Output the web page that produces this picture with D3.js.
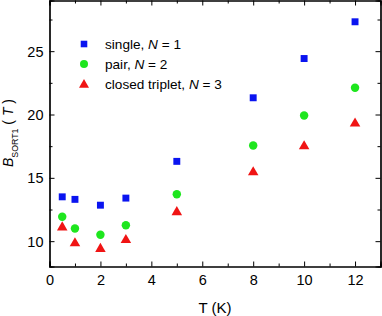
<!DOCTYPE html>
<html><head><meta charset="utf-8">
<script src="https://cdn.jsdelivr.net/npm/d3@7/dist/d3.min.js"></script>
<style>body{margin:0;background:#fff}svg{display:block}text{font-family:"Liberation Sans",Arial,sans-serif}</style>
</head><body><svg id="c" width="382" height="316"></svg>
<script>
const temps = [0.5, 1, 2, 3, 5, 8, 10, 12];
const single = [13.5, 13.3, 12.84, 13.4, 16.3, 21.32, 24.42, 27.32];
const pair = [11.93, 11.0, 10.5, 11.26, 13.71, 17.56, 19.92, 22.11];
const triplet = [11.15, 9.9, 9.45, 10.15, 12.35, 15.5, 17.55, 19.35];
const xMajor = [0, 2, 4, 6, 8, 10, 12];
const xMinor = [1, 3, 5, 7, 9, 11];
const yMajor = [10, 15, 20, 25];
const yMinor = [12.5, 17.5, 22.5, 27.5];
const legendLabels = [["single, ", "N", " = 1"], ["pair, ", "N", " = 2"], ["closed triplet, ", "N", " = 3"]];
const colors = ["#0a14f0", "#1ee61e", "#f01414"];

const svg = d3.select("#c");
const L = 49.5, R = 380.5, T = 0.5, B = 266.5;
const x = d3.scaleLinear().domain([0, 13]).range([L, R]);
const y = d3.scaleLinear().domain([8, 29]).range([B, T]);

const gx = svg.append("g").attr("transform", `translate(0,${B})`)
  .call(d3.axisBottom(x).tickValues(xMajor).tickSize(-5).tickPadding(8).tickFormat(d3.format("d")));
const gxm = svg.append("g").attr("transform", `translate(0,${B})`)
  .call(d3.axisBottom(x).tickValues(xMinor).tickSize(-3).tickFormat(""));
const gxt = svg.append("g").attr("transform", `translate(0,${T})`)
  .call(d3.axisTop(x).tickValues(xMajor).tickSize(-5).tickFormat(""));
const gxtm = svg.append("g").attr("transform", `translate(0,${T})`)
  .call(d3.axisTop(x).tickValues(xMinor).tickSize(-3).tickFormat(""));
const gy = svg.append("g").attr("transform", `translate(${L},0)`)
  .call(d3.axisLeft(y).tickValues(yMajor).tickSize(-5).tickPadding(6).tickFormat(d3.format("d")));
const gym = svg.append("g").attr("transform", `translate(${L},0)`)
  .call(d3.axisLeft(y).tickValues(yMinor).tickSize(-3).tickFormat(""));
const gyr = svg.append("g").attr("transform", `translate(${R},0)`)
  .call(d3.axisRight(y).tickValues(yMajor).tickSize(-5).tickFormat(""));
const gyrm = svg.append("g").attr("transform", `translate(${R},0)`)
  .call(d3.axisRight(y).tickValues(yMinor).tickSize(-3).tickFormat(""));
[gx,gxm,gxt,gxtm,gy,gym,gyr,gyrm].forEach(g=>{
  g.selectAll("path").attr("stroke","#000").attr("stroke-width",1.2);
  g.selectAll("line").attr("stroke","#000").attr("stroke-width",1);
  g.selectAll("text").attr("font-size",14.5).attr("fill","#000")
    .style("font-family",'"Liberation Sans",Arial,sans-serif');
});
gy.selectAll("text").attr("dy","0.35em");

const sym = [d3.symbolSquare, d3.symbolCircle, d3.symbolTriangle];
const sizes = [48, 56, 48];
const series = [single, pair, triplet];
series.forEach((vals, i) => {
  svg.append("g").selectAll("path").data(temps.map((t, j) => [t, vals[j]])).join("path")
    .attr("transform", d => `translate(${x(d[0])},${y(d[1]) + (i===2?0.8:0)})`)
    .attr("d", d3.symbol().type(sym[i]).size(sizes[i]))
    .attr("fill", colors[i]);
});

legendLabels.forEach((lab, i) => {
  const cy = 44 + i * 20;
  svg.append("path").attr("transform", `translate(84,${cy + (i===2?0.8:0)})`)
    .attr("d", d3.symbol().type(sym[i]).size(sizes[i]*0.9)).attr("fill", colors[i]);
  const t = svg.append("text").attr("x", 105).attr("y", cy + 4.8).attr("font-size", 13.6).attr("fill","#000");
  t.append("tspan").text(lab[0]);
  t.append("tspan").attr("font-style", "italic").text(lab[1]);
  t.append("tspan").text(lab[2]);
});

svg.append("text").attr("x", (L + R) / 2).attr("y", 313).attr("text-anchor", "middle")
  .attr("font-size", 15).text("T (K)");
const yl = svg.append("text").attr("transform", `translate(13,133) rotate(-90)`)
  .attr("text-anchor", "middle").attr("font-size", 14);
yl.append("tspan").attr("font-style", "italic").text("B");
yl.append("tspan").attr("font-size", 8.8).attr("dy", 4.5).text("SORT1");
yl.append("tspan").attr("dy", -4.5).text(" ( ");
yl.append("tspan").attr("font-style", "italic").text("T");
yl.append("tspan").text(" )");
</script></body></html>
